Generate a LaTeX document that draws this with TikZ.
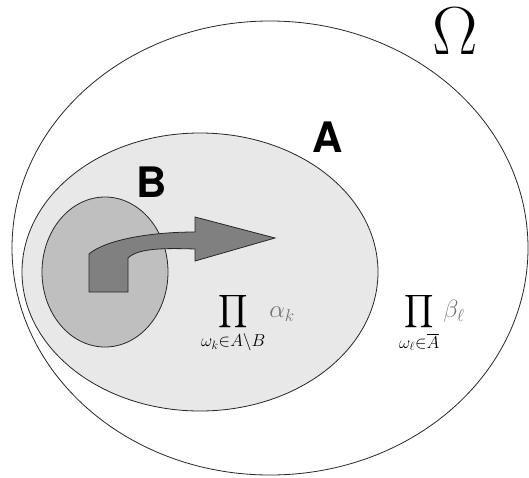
\documentclass[tikz,border=0pt]{standalone}
\usepackage{amsmath,amssymb}
\usepackage{fontspec}
\newfontfamily\setfont{TeX Gyre Heros}
\newcommand{\weight}[1]{\textcolor{black!55}{#1}}
\tikzset{
            setline/.style={draw=black!85, line width=0.8pt},
            setlabel/.style={font=\fontsize{42}{46}\setfont\bfseries, inner sep=0pt},
            prodlabel/.style={font=\fontsize{23}{27}\selectfont, inner sep=0pt}
        }

\begin{document}
\begin{tikzpicture}[x=1pt, y=-1pt]
                \useasboundingbox (0,0) rectangle (529,477);
                % the sets
                \draw[setline, fill=white] (270,248) ellipse [x radius=258, y radius=227];
                \draw[setline, fill=black!9] (200,272) ellipse [x radius=178, y radius=139];
                \draw[setline, fill=black!25] (105,272) ellipse [x radius=63, y radius=75];
                % arrow
                \draw[setline, fill=black!50]
                    (89,292) -- (128,292) -- (128,258)
                    .. controls (138,248) and (165,248) .. (195,249)
                    -- (195,261) -- (275,238) -- (195,217) -- (195,232)
                    .. controls (150,232) and (105,240) .. (89,254) -- cycle;
                % labels
                \node[inner sep=0pt] (omega) at (455,31) {\fontsize{68}{72}\selectfont Ω};
                \node[setlabel] (a) at (328,137) {A};
                \node[setlabel] (b) at (152,182) {B};
                \node[prodlabel] (inner) at (248,323)
                    {$\displaystyle\prod_{\omega_k\in A\setminus B}\weight{\alpha_k}$};
                \node[prodlabel] (outer) at (432,323)
                    {$\displaystyle\prod_{\omega_\ell\in\overline{A}}\weight{\beta_\ell}$};
            \end{tikzpicture}
\end{document}
